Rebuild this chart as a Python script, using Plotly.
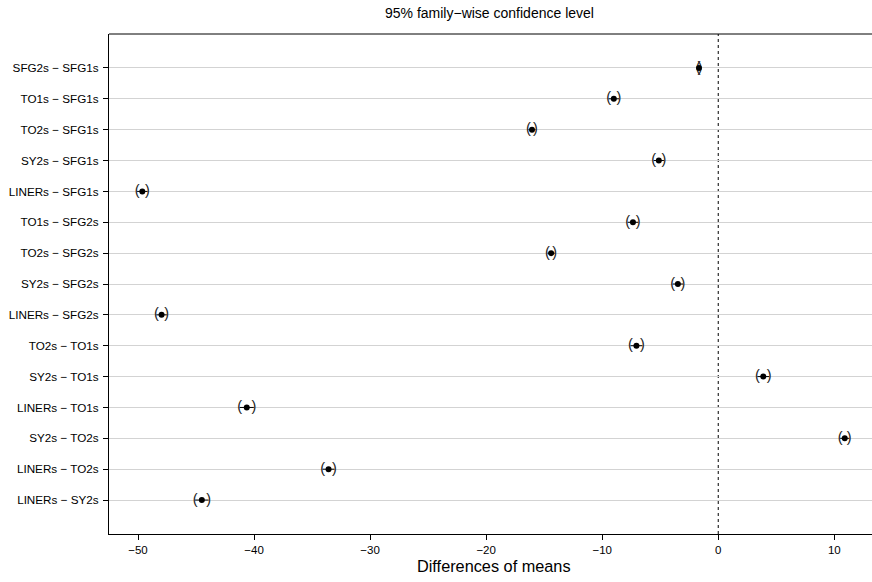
import plotly.graph_objects as go

comparisons = [
    "SFG2s − SFG1s", "TO1s − SFG1s", "TO2s − SFG1s", "SY2s − SFG1s", "LINERs − SFG1s",
    "TO1s − SFG2s", "TO2s − SFG2s", "SY2s − SFG2s", "LINERs − SFG2s",
    "TO2s − TO1s", "SY2s − TO1s", "LINERs − TO1s",
    "SY2s − TO2s", "LINERs − TO2s", "LINERs − SY2s",
]
diff = [-1.66, -9.0, -16.05, -5.12, -49.63, -7.35, -14.4, -3.48, -47.97,
        -7.05, 3.88, -40.63, 10.9, -33.58, -44.5]
halfwidth = [0.08, 0.45, 0.3, 0.44, 0.45, 0.45, 0.31, 0.44, 0.45,
             0.51, 0.51, 0.61, 0.39, 0.51, 0.58]
lwr = [d - h for d, h in zip(diff, halfwidth)]
upr = [d + h for d, h in zip(diff, halfwidth)]
x_ticks = [-50, -40, -30, -20, -10, 0, 10]

ypos = list(range(1, len(comparisons) + 1))

seg_x, seg_y = [], []
for lo, hi, y in zip(lwr, upr, ypos):
    seg_x += [lo, hi, None]
    seg_y += [y, y, None]

FONT = "Liberation Sans, Arial"

fig = go.Figure()
fig.add_trace(go.Scatter(x=seg_x, y=seg_y, mode="lines",
                         line=dict(color="black", width=1), hoverinfo="skip"))
fig.add_trace(go.Scatter(x=lwr, y=ypos, mode="text", text=["("] * len(lwr),
                         textposition="middle center",
                         textfont=dict(family=FONT, size=14.5, color="#222")))
fig.add_trace(go.Scatter(x=upr, y=ypos, mode="text", text=[")"] * len(upr),
                         textposition="middle center",
                         textfont=dict(family=FONT, size=14.5, color="#222")))
fig.add_trace(go.Scatter(x=diff, y=ypos, mode="markers",
                         marker=dict(color="black", size=6, line=dict(width=0))))

fig.add_shape(type="line", xref="x", yref="paper", x0=0, x1=0, y0=0, y1=1,
              line=dict(color="black", width=1, dash="dot"), layer="below")
fig.add_shape(type="line", xref="paper", yref="paper", x0=0, x1=1, y0=1, y1=1,
              line=dict(color="black", width=1))

fig.update_layout(
    width=872, height=582,
    margin=dict(l=109, r=0, t=34, b=48),
    plot_bgcolor="white", paper_bgcolor="white",
    showlegend=False,
    font=dict(family=FONT, size=11.5, color="black"),
    xaxis=dict(range=[-52.5, 13.25], tickvals=x_ticks, ticks="outside", ticklen=5,
               tickcolor="black", showline=True, linecolor="black", linewidth=1,
               showgrid=False, zeroline=False, tickfont=dict(size=11.5)),
    yaxis=dict(range=[16.1, -0.1], tickvals=ypos, ticktext=comparisons,
               ticks="outside", ticklen=5, tickcolor="black",
               showline=True, linecolor="black", linewidth=1,
               showgrid=True, gridcolor="#d3d3d3", gridwidth=1, zeroline=False,
               tickfont=dict(size=11.7), ticklabelstandoff=2),
    annotations=[
        dict(text="95% family−wise confidence level", xref="paper", yref="paper",
             x=0.499, y=1, yshift=21, xanchor="center", yanchor="middle",
             showarrow=False, font=dict(size=14)),
        dict(text="Differences of means", xref="paper", yref="paper",
             x=0.505, y=0, yshift=-32, xanchor="center", yanchor="middle",
             showarrow=False, font=dict(size=16.3)),
    ],
)

fig.write_html("out.html", config={"displayModeBar": False},
               post_script="document.body.style.margin='0';document.body.style.overflow='hidden';")
